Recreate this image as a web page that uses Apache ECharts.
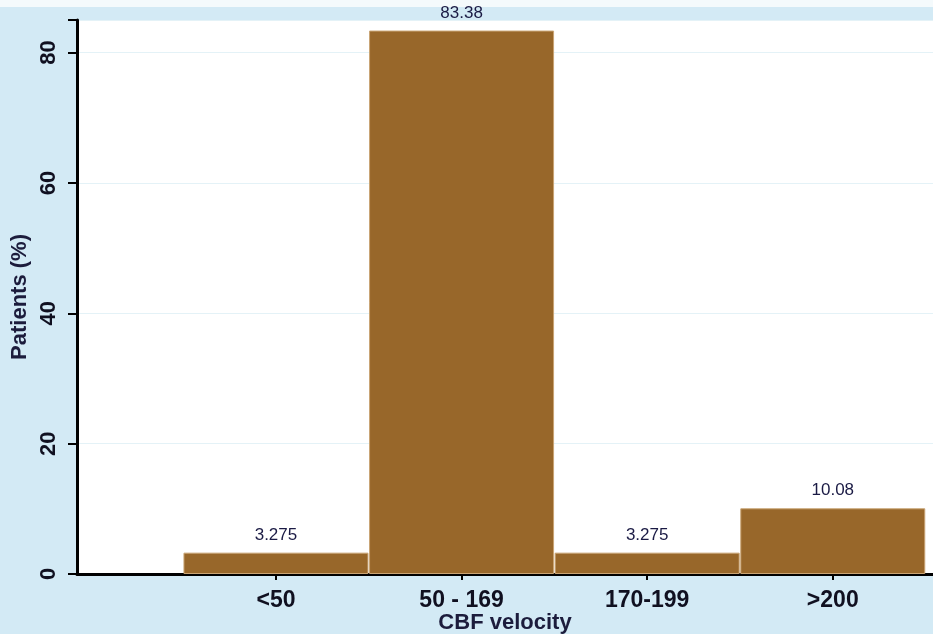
<!DOCTYPE html>
<html>
<head>
<meta charset="utf-8">
<script src="https://cdn.jsdelivr.net/npm/echarts@6/dist/echarts.min.js"></script>
<style>
html,body{margin:0;padding:0;background:#d3eaf5;}
#c{width:933px;height:634px;}
</style>
</head>
<body>
<div id="c"></div>
<script>
const categories = ['<50', '50 - 169', '170-199', '>200'];
const values = [3.275, 83.38, 3.275, 10.08];
const valueLabels = ['3.275', '83.38', '3.275', '10.08'];
const yTicks = [0, 20, 40, 60, 80];

const positions = categories.map((c, i) => i + 1);
const chart = echarts.init(document.getElementById('c'), null, {renderer: 'canvas'});
chart.setOption({
  backgroundColor: '#d3eaf5',
  animation: false,
  graphic: [{type: 'rect', left: 0, top: 0, shape: {width: 933, height: 7}, style: {fill: '#f4fafc'}, z: -1}],
  grid: {left: 77, right: 0, top: 20, bottom: 60, show: true, backgroundColor: '#ffffff', borderWidth: 0,
    containLabel: false, outerBoundsMode: 'none'},
  xAxis: {
    type: 'value', min: -0.072, max: 4.54,
    name: 'CBF velocity', nameLocation: 'middle', nameGap: 38, nameMoveOverlap: false,
    nameTextStyle: {fontFamily: 'Liberation Sans', fontWeight: 'bold', fontSize: 22, color: '#1c1c3c'},
    axisLine: {onZero: false, lineStyle: {color: '#000', width: 3}},
    axisTick: {show: true, customValues: positions, length: 6, lineStyle: {color: '#000', width: 2}},
    axisLabel: {customValues: positions, formatter: v => categories[Math.round(v) - 1], margin: 15,
      fontFamily: 'Liberation Sans', fontWeight: 'bold', fontSize: 23, color: '#101020'},
    splitLine: {show: false}
  },
  yAxis: {
    type: 'value', min: 0, max: 85, interval: 20,
    name: 'Patients (%)', nameLocation: 'middle', nameGap: 46, nameRotate: 90, nameMoveOverlap: false,
    nameTextStyle: {fontFamily: 'Liberation Sans', fontWeight: 'bold', fontSize: 22, color: '#1c1c3c'},
    axisLine: {show: true, onZero: false, lineStyle: {color: '#000', width: 3}},
    axisTick: {show: true, length: 9, lineStyle: {color: '#000', width: 2}},
    axisLabel: {rotate: 90, margin: 17, fontFamily: 'Liberation Sans', fontWeight: 'bold', fontSize: 22, color: '#101020',
      formatter: v => yTicks.includes(v) ? String(v) : ''},
    splitLine: {show: true, lineStyle: {color: '#e4f2f7', width: 1}}
  },
  series: [{
    type: 'bar',
    data: positions.map((p, i) => [p, values[i]]),
    barWidth: 185,
    itemStyle: {color: '#98672a', borderColor: '#c9a474', borderWidth: 1},
    label: {show: true, position: 'top', distance: 9, formatter: p => valueLabels[p.dataIndex],
      fontFamily: 'Liberation Sans', fontSize: 17, color: '#1a1a44'}
  }]
});
</script>
</body>
</html>
